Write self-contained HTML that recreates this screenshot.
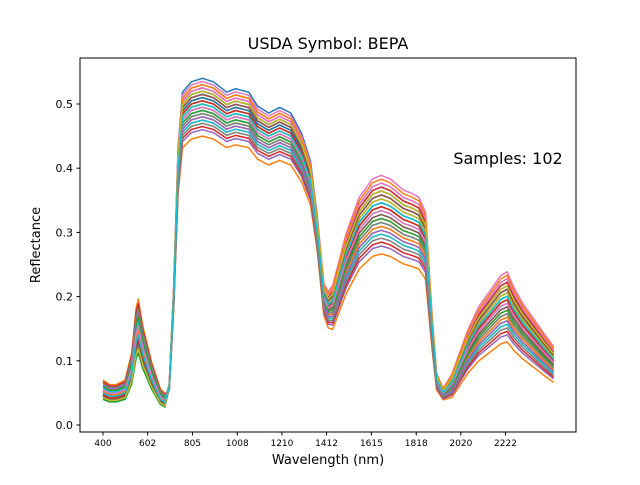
<!DOCTYPE html>
<html><head><meta charset="utf-8"><style>
body{margin:0;background:#fff;font-family:"Liberation Sans","DejaVu Sans",sans-serif}
svg text{font-family:"DejaVu Sans","Liberation Sans",sans-serif}
</style></head><body>
<svg id="c" width="640" height="480" viewBox="0 0 640 480">
<rect width="640" height="480" fill="#fff"/>
<text x="328" y="49" font-size="16" text-anchor="middle">USDA Symbol: BEPA</text>
<g id="lines"></g>
<rect x="80" y="58" width="496" height="374" fill="none" stroke="#000" stroke-width="1"/>
<g id="ticks"></g>
<text x="508" y="164" font-size="16" text-anchor="middle">Samples: 102</text>
<text x="328" y="464" font-size="13" text-anchor="middle">Wavelength (nm)</text>
<text x="40" y="245" font-size="13" text-anchor="middle" transform="rotate(-90 40 245)">Reflectance</text>
</svg>
<script>
const wavelengths=[400,430,460,500,530,550,560,580,620,660,680,700,720,740,760,800,850,900,960,1000,1060,1100,1150,1200,1250,1300,1340,1370,1400,1420,1440,1500,1560,1620,1660,1700,1760,1800,1830,1860,1890,1910,1940,1980,2050,2100,2150,2200,2230,2260,2300,2350,2400,2440];
const baseSpectrum=[0.05,0.045,0.045,0.05,0.08,0.13,0.14,0.11,0.07,0.04,0.035,0.06,0.2,0.4,0.48,0.495,0.5,0.495,0.48,0.485,0.48,0.46,0.45,0.458,0.45,0.42,0.38,0.3,0.2,0.185,0.19,0.26,0.31,0.335,0.34,0.335,0.32,0.315,0.31,0.29,0.15,0.07,0.05,0.065,0.12,0.15,0.17,0.19,0.195,0.175,0.155,0.135,0.115,0.1];
const nirScale=[1.08,0.9,1.0,1.04,0.96,1.02,0.98,1.06,0.94,1.01,0.99,1.03,0.97,1.05,0.92,1.0,1.07,0.95,1.02,0.98,1.04,0.96,1.01,0.93,1.03,0.99,1.05,0.97,1.0,0.95,1.02,1.06,0.98,1.01,0.96,1.03,0.99,0.94,1.04,1.0];
const swirScale=[1.05,0.88,1.0,1.04,0.95,1.02,0.97,1.06,0.93,1.01,0.99,1.03,0.96,1.05,0.9,1.0,1.08,0.94,1.02,0.98,1.04,0.95,1.0,0.91,1.03,0.98,1.06,0.96,1.0,0.93,1.01,1.07,0.97,1.0,0.94,1.03,0.99,0.92,1.04,1.01];
const visScale=[1.1,1.4,0.9,1.0,1.2,0.85,1.05,0.95,1.3,0.8,1.0,1.15,0.9,1.05,1.25,0.95,1.0,0.85,1.1,1.2,0.9,1.0,0.8,1.35,1.05,0.95,1.1,0.9,1.0,1.15,0.85,1.05,1.2,0.95,1.0,0.9,1.1,1.3,0.85,1.0];
const xTicks=[400,602,805,1008,1210,1412,1615,1818,2020,2222];
const yTicks=[0,0.1,0.2,0.3,0.4,0.5];
const colors=['#1f77b4','#ff7f0e','#2ca02c','#d62728','#9467bd','#8c564b','#e377c2','#7f7f7f','#bcbd22','#17becf'];
const X=w=>103+(w-400)*0.2209;
const Y=v=>425-v*642;
const NS='http://www.w3.org/2000/svg';
const g=document.getElementById('lines');
for(let s=0;s<nirScale.length;s++){
  let d='';
  const s1=1+(swirScale[s]-1)*1.8, s2=1+(swirScale[s]-1)*2.8;
  for(let i=0;i<wavelengths.length;i++){
    const w=wavelengths[i];
    let f;
    if(w<700) f=visScale[s];
    else if(w<1370) f=nirScale[s];
    else if(w<1440) f=nirScale[s]+(s1-nirScale[s])*(w-1370)/70;
    else f=w>1950?s2:s1;
    d+=(i?'L':'M')+X(w).toFixed(1)+' '+Y(baseSpectrum[i]*f).toFixed(1);
  }
  const p=document.createElementNS(NS,'path');
  p.setAttribute('d',d);p.setAttribute('fill','none');
  p.setAttribute('stroke',colors[s%10]);p.setAttribute('stroke-width','1.5');p.setAttribute('stroke-linejoin','round');
  
  
  g.appendChild(p);
}
const t=document.getElementById('ticks');
xTicks.forEach(v=>{
  const x=X(v);
  const l=document.createElementNS(NS,'line');
  l.setAttribute('x1',x);l.setAttribute('x2',x);l.setAttribute('y1',432);l.setAttribute('y2',435.5);l.setAttribute('stroke','#000');
  
  
  t.appendChild(l);
  const tx=document.createElementNS(NS,'text');
  tx.setAttribute('x',x);tx.setAttribute('y',446);tx.setAttribute('font-size','9');tx.setAttribute('text-anchor','middle');
  tx.textContent=v;
  
  
  t.appendChild(tx);
});
yTicks.forEach(v=>{
  const y=Y(v);
  const l=document.createElementNS(NS,'line');
  l.setAttribute('x1',76.5);l.setAttribute('x2',80);l.setAttribute('y1',y);l.setAttribute('y2',y);l.setAttribute('stroke','#000');
  
  
  t.appendChild(l);
  const tx=document.createElementNS(NS,'text');
  tx.setAttribute('x',73);tx.setAttribute('y',y+4);tx.setAttribute('font-size','11');tx.setAttribute('text-anchor','end');
  tx.textContent=v.toFixed(1);
  
  
  t.appendChild(tx);
});
</script>
</body></html>
